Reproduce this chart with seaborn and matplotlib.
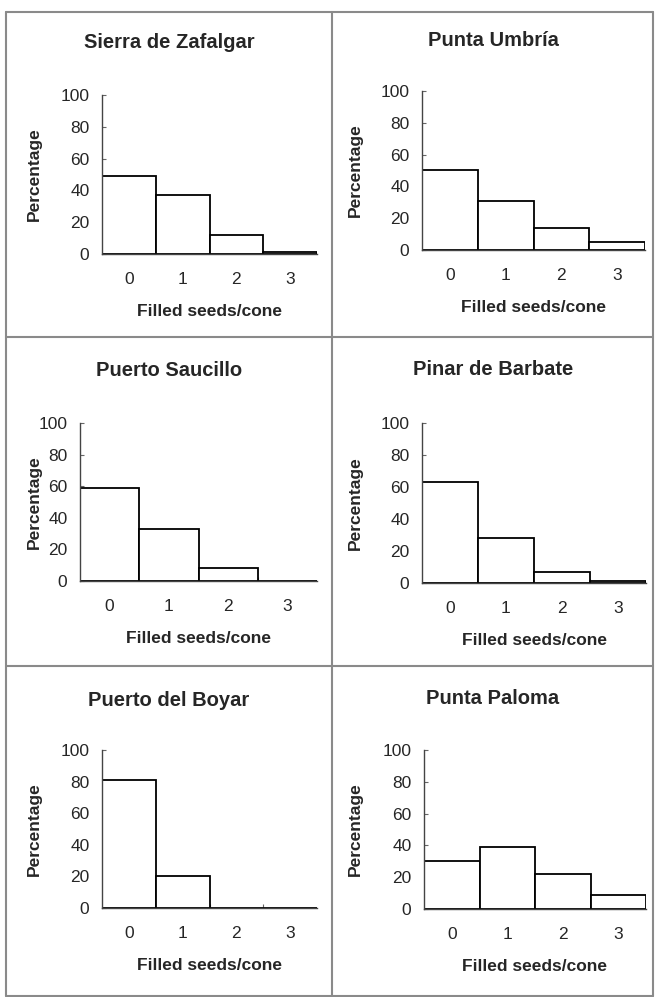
import numpy as np
import pandas as pd
import matplotlib
matplotlib.use("Agg")
import matplotlib.pyplot as plt
from matplotlib.lines import Line2D
import seaborn as sns

# datos
seeds = ["0", "1", "2", "3"]
sites = ["Sierra de Zafalgar", "Punta Umbría", "Puerto Saucillo",
         "Pinar de Barbate", "Puerto del Boyar", "Punta Paloma"]
zafalgar = [49, 37, 12, 1.5]
umbria = [50, 31, 14, 5]
saucillo = [59, 33, 8, 0]
barbate = [63, 28, 7, 1.5]
boyar = [81, 20, 0, 0]
paloma = [30, 39, 22, 9]
values = [zafalgar, umbria, saucillo, barbate, boyar, paloma]

yticks = [0, 20, 40, 60, 80, 100]

sns.set_style("white")
plt.rcParams['font.family'] = ['Liberation Sans', 'DejaVu Sans']

W, H = 655, 997
fig = plt.figure(figsize=(W / 100, H / 100), dpi=100)

# cajas de los ejes en pixeles: x0, x1, y(100), y(0)
boxes = [(102, 317, 95, 254), (422, 645, 91, 250),
         (80, 317, 423, 581), (422, 646, 423, 583),
         (102, 317, 750, 908), (424, 646, 750, 909)]
title_y = [42, 40, 370, 369, 700, 698]
cell_cx = [169, 493]

for i, (site, vals) in enumerate(zip(sites, values)):
    x0, x1, yt, yb = boxes[i]
    ax = fig.add_axes([x0 / W, 1 - yb / H, (x1 - x0) / W, (yb - yt) / H])
    df = pd.DataFrame({"seeds": seeds, "pct": vals})
    sns.barplot(data=df, x="seeds", y="pct", ax=ax, color="white",
                edgecolor="black", linewidth=1.3, width=1, saturation=1)
    ax.set_xlim(-0.5, 3.5)
    ax.set_ylim(0, 100)
    ax.set_yticks(yticks)
    ax.set_xticks(range(4))
    ax.set_xticks([0.5, 1.5, 2.5], minor=True)
    ax.tick_params(axis="y", direction="in", length=3, width=0.8,
                   color="#666666", labelsize=12.5, pad=9, left=True)
    ax.tick_params(axis="x", which="major", length=0, labelsize=12.5, pad=13)
    ax.tick_params(axis="x", which="minor", direction="in", length=3,
                   width=0.8, color="#666666", bottom=True)
    sns.despine(ax=ax)
    for s in ["left", "bottom"]:
        ax.spines[s].set_color("#444444")
        ax.spines[s].set_linewidth(1.0)
    ax.set_xlabel("Filled seeds/cone", fontsize=12.5, fontweight="bold")
    ax.xaxis.set_label_coords(0.5, -50 / (yb - yt))
    ax.set_ylabel("Percentage", fontsize=12.5, fontweight="bold")
    lab_right = 42 if i % 2 == 0 else 363
    ax.yaxis.set_label_coords((lab_right - x0) / (x1 - x0), 0.5)
    fig.text(cell_cx[i % 2] / W, 1 - title_y[i] / H, site, fontsize=14.5,
             fontweight="bold", ha="center", va="center")

# marcos de los paneles
def line(xa, ya, xb, yb):
    fig.add_artist(Line2D([xa / W, xb / W], [1 - ya / H, 1 - yb / H],
                          transform=fig.transFigure, color="#8a8a8a", lw=1.5))

line(6, 12, 653, 12)
line(6, 12, 6, 996)
line(6, 996, 653, 996)
line(653, 12, 653, 996)
line(332, 12, 332, 996)
line(6, 337, 653, 337)
line(6, 666, 653, 666)

fig.savefig("out.png", dpi=100)
